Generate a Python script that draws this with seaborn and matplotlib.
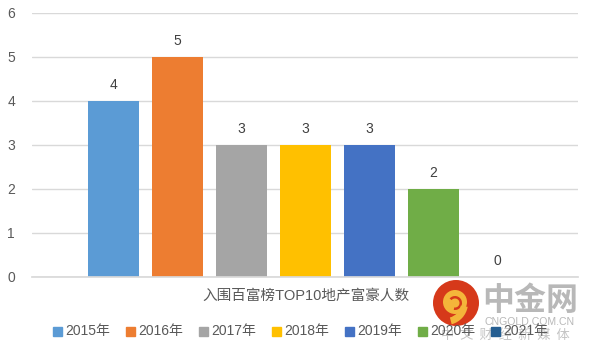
import numpy as np
import pandas as pd
import matplotlib.pyplot as plt
import seaborn as sns
from matplotlib.patches import Circle, Wedge

years = ['2015年', '2016年', '2017年', '2018年', '2019年', '2020年', '2021年']
counts = [4, 5, 3, 3, 3, 2, 0]
colors = ['#5B9BD5', '#ED7D31', '#A5A5A5', '#FFC000', '#4472C4', '#70AD47', '#255E91']
y_ticks = [0, 1, 2, 3, 4, 5, 6]
x_title = '入围百富榜TOP10地产富豪人数'

sns.set_theme(style='white')
plt.rcParams['font.family'] = ['Liberation Sans', 'Noto Sans CJK SC', 'DejaVu Sans']

W, H = 590, 353
text_color = '#595959'

df = pd.DataFrame({'year': years, 'count': counts})

fig = plt.figure(figsize=(W / 100, H / 100), dpi=100)
ax = fig.add_axes([32 / W, 1 - 277 / H, (578 - 32) / W, (277 - 13) / H])

sns.barplot(data=df, x='year', y='count', hue='year', palette=colors, dodge=False,
            width=0.8, saturation=1, legend=False, linewidth=0, ax=ax)

ax.set_xlim(-1.27, 7.26)
ax.set_ylim(0, 6)
ax.set_yticks(y_ticks)
ax.set_xticks([])
ax.set_xlabel('')
ax.set_ylabel('')
ax.grid(axis='y', color='#D9D9D9', linewidth=1)
ax.set_axisbelow(True)
sns.despine(ax=ax, left=True, top=True, right=True)
ax.spines['bottom'].set_color('#D9D9D9')
ax.tick_params(axis='y', length=0, labelsize=10, labelcolor=text_color, pad=12.2)

for i, c in enumerate(counts):
    ax.text(i, c + 0.21, str(c), ha='center', va='bottom', fontsize=10, color='#404040')

fig.text(306 / W, 1 - 296 / H, x_title, ha='center', va='center', fontsize=10.5, color=text_color)

# legend, one swatch per year
for i, (y, col) in enumerate(zip(years, colors)):
    x0 = 53 + i * 73
    fig.patches.append(plt.Rectangle((x0 / W, 1 - 336 / H), 9 / W, 9 / H, color=col,
                                     transform=fig.transFigure, figure=fig))
    fig.text((x0 + 12) / W, 1 - 331 / H, y, ha='left', va='center', fontsize=10, color=text_color)

# watermark logo
logo = fig.add_axes([0, 0, 1, 1], facecolor='none')
logo.set_xlim(0, W)
logo.set_ylim(H, 0)
logo.axis('off')
logo.add_patch(Circle((456, 303), 23, color='#D6391A', lw=0))
logo.add_patch(Circle((455, 302), 12, color='#F4B53A', lw=0))
logo.add_patch(Wedge((455, 303), 7, 220, 100, width=2.5, color='#D6391A', lw=0))
logo.add_patch(Wedge((446, 303), 22, 10, 75, width=7, color='#F4B53A', lw=0))

logo.text(530, 301, '中金网', ha='center', va='center', fontsize=23, fontweight='bold',
          color='#B8B8B8', family=['Noto Sans CJK SC'])
logo.text(530, 322, 'CNGOLD.COM.CN', ha='center', va='center', fontsize=7.6, color='#B8B8B8')
logo.text(505, 335, '中  文  财  经  新  媒  体', ha='center', va='center', fontsize=9.5, color='#C4C4C4',
          family=['Noto Sans CJK SC'])

fig.savefig('out.png', dpi=100)
